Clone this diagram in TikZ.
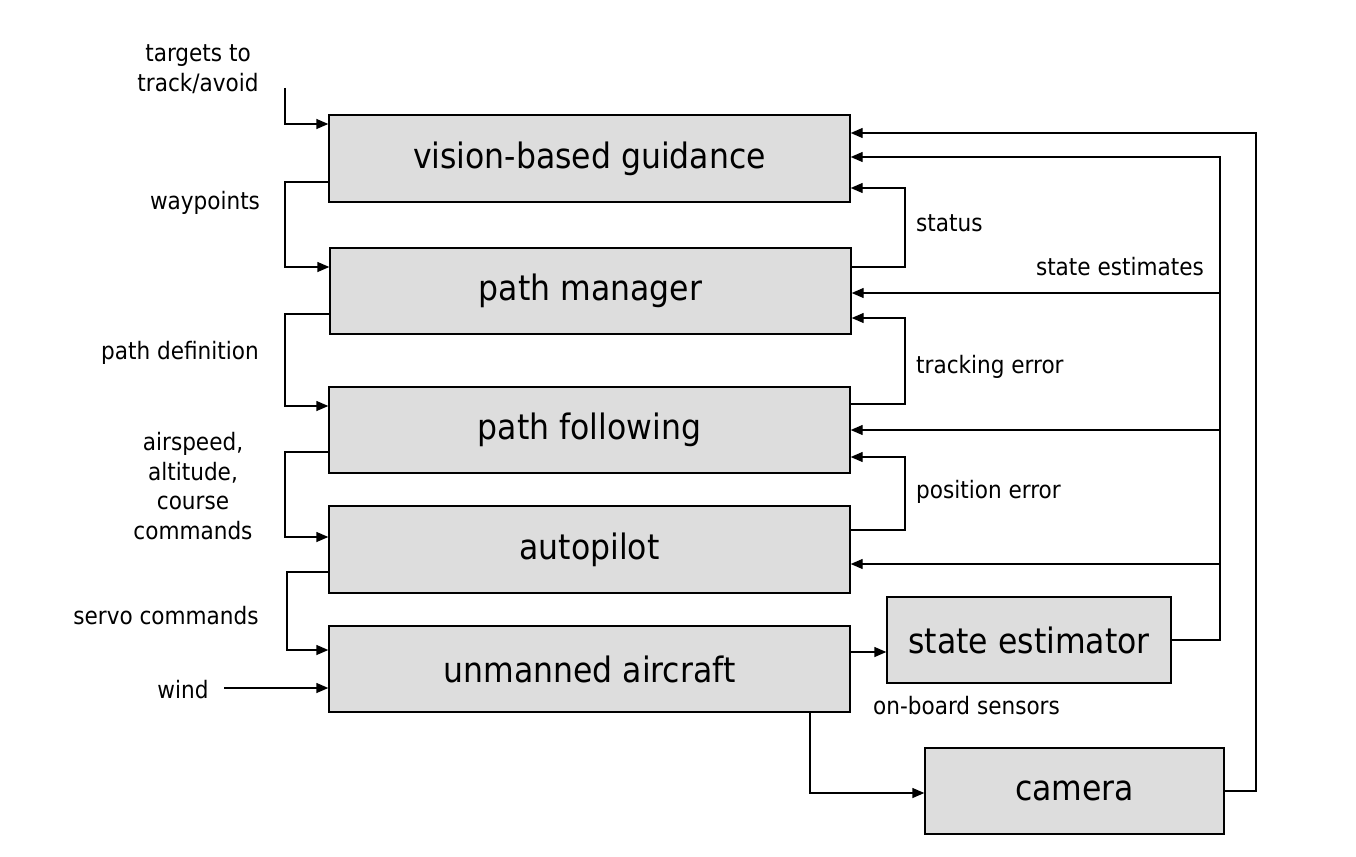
\documentclass[tikz,border=0pt]{standalone}
\usepackage{fontspec}
\setmainfont{DejaVu Sans Condensed}
\usetikzlibrary{arrows.meta}
\begin{document}
\begin{tikzpicture}[x=1pt,y=-1pt,
  blk/.style={draw,line width=1.4pt,fill={rgb,255:red,221;green,221;blue,221},inner sep=0pt,font=\fontsize{35}{40}\selectfont},
  lbl/.style={inner sep=0pt,font=\fontsize{24}{29.5}\selectfont,align=center},
  con/.style={line width=1.4pt,-{Triangle[length=12pt,width=10pt]}},
  ln/.style={line width=1.4pt}]
\useasboundingbox (0,0) rectangle (1356,856);
% blocks
\node[blk,minimum width=521pt,minimum height=87pt] (vbg) at (589.5,158.5) {vision-based guidance};
\node[blk,minimum width=521pt,minimum height=86pt] (pm) at (590.5,291) {path manager};
\node[blk,minimum width=521pt,minimum height=86pt] (pf) at (589.5,430) {path following};
\node[blk,minimum width=521pt,minimum height=87pt] (ap) at (589.5,549.5) {autopilot};
\node[blk,minimum width=521pt,minimum height=86pt] (ua) at (589.5,669) {unmanned aircraft};
\node[blk,minimum width=284pt,minimum height=86pt] (se) at (1029,640) {state estimator};
\node[blk,minimum width=299pt,minimum height=86pt] (cam) at (1074.5,791) {camera};
% coordinates
\coordinate (tgt) at (285,88);
\coordinate (wnd) at (224,688);
% left connectors
\draw[con] (tgt) |- (vbg.west |- 0,124);
\draw[con] (vbg.west |- 0,182) -- (285,182) |- (pm.west |- 0,267);
\draw[con] (pm.west |- 0,314) -- (285,314) |- (pf.west |- 0,406);
\draw[con] (pf.west |- 0,452) -- (285,452) |- (ap.west |- 0,537);
\draw[con] (ap.west |- 0,572) -- (287,572) |- (ua.west |- 0,650);
\draw[con] (wnd) -- (ua.west |- 0,688);
% right feedback
\draw[con] (cam.east) -| (1256,133) -- (vbg.east |- 0,133);
\draw[con] (se.east) -| (1220,157) -- (vbg.east |- 0,157);
\draw[con] (1220,293) -- (pm.east |- 0,293);
\draw[con] (1220,430) -- (pf.east |- 0,430);
\draw[con] (1220,564) -- (ap.east |- 0,564);
\draw[con] (pm.east |- 0,267) -- (905,267) |- (vbg.east |- 0,188);
\draw[con] (pf.east |- 0,404) -- (905,404) |- (pm.east |- 0,318);
\draw[con] (ap.east |- 0,530) -- (905,530) |- (pf.east |- 0,457);
\draw[con] (ua.east |- 0,652) -- (se.west |- 0,652);
\draw[con] (ua.south -| 810,0) |- (cam.west |- 0,793);
% labels
\node[lbl] (l1) at (198,69) {targets to\\track/avoid};
\node[lbl] (l2) at (205,203) {waypoints};
\node[lbl] (l3) at (180,353) {path definition};
\node[lbl] (l4) at (193,486) {airspeed,\\altitude,\\course\\commands};
\node[lbl] (l5) at (166,616) {servo commands};
\node[lbl] (l6) at (183,690) {wind};
\node[lbl,anchor=west] (l7) at (916,223) {status};
\node[lbl,anchor=east] (l8) at (1204,267) {state estimates};
\node[lbl,anchor=west] (l9) at (916,367) {tracking error};
\node[lbl,anchor=west] (l10) at (916,492) {position error};
\node[lbl,anchor=west] (l11) at (873,706) {on-board sensors};
\end{tikzpicture}
\end{document}
